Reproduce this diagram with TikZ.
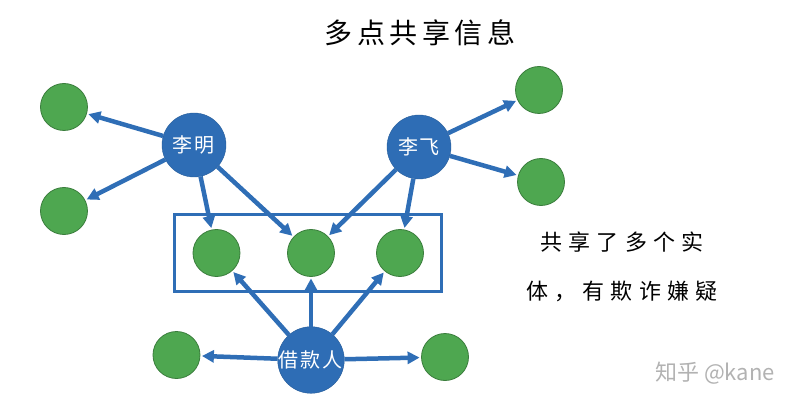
\documentclass[tikz,border=0pt]{standalone}
\usepackage{fontspec}
\newfontfamily\cjk{Noto Sans CJK SC}
\newfontfamily\cjkhub[LetterSpace=10]{Noto Sans CJK SC}
\newfontfamily\cjktitle[LetterSpace=16]{Noto Sans CJK SC}
\newfontfamily\cjknote[LetterSpace=28]{Noto Sans CJK SC}
\usetikzlibrary{positioning, fit, arrows.meta}
\definecolor{hubblue}{RGB}{46,109,181}
\definecolor{linkblue}{RGB}{47,110,182}
\definecolor{leafgreen}{RGB}{78,167,80}
\definecolor{markgray}{RGB}{178,178,178}
\begin{document}
\begin{tikzpicture}[x=1pt, y=1pt, node distance=100pt]

    % Define styles
    \tikzset{
        hub/.style = {circle, minimum size=64pt, inner sep=0pt, draw=hubblue!85!black, fill=hubblue, text=white, font=\cjkhub\fontsize{20}{20}\selectfont},
        leaf/.style = {circle, minimum size=47pt, inner sep=0pt, draw=leafgreen!75!black, line width=0.8pt, fill=leafgreen},
        sharebox/.style = {rectangle, draw=linkblue, line width=3pt, inner xsep=18pt, inner ysep=14.5pt},
        caption/.style = {text=black, align=center, font=\cjknote\fontsize{22}{49}\selectfont},
        arrow/.style = {line width=4.5pt, draw=linkblue, shorten >=1.5pt, -{Triangle[length=12pt, width=12pt]}}
    }

    \useasboundingbox (-420,33) rectangle (380,-373);

    % Nodes
    \node (title) [font=\cjktitle\fontsize{28}{28}\selectfont] {多点共享信息};
    \node (liming) [hub, below of=title, node distance=112pt, xshift=-226pt] {李明};
    \node (lifei) [hub, right of=liming, node distance=225pt, yshift=-2pt] {李飞};
    \node (borrower) [hub, below of=liming, node distance=215pt, xshift=117pt] {借款人};
    \node (sharedmid) [leaf, above of=borrower, node distance=107pt] {};
    \node (sharedleft) [leaf, left of=sharedmid, node distance=94.5pt] {};
    \node (sharedright) [leaf, right of=sharedmid, node distance=89pt] {};
    \node (mingup) [leaf, left of=liming, node distance=130pt, yshift=38pt] {};
    \node (mingdown) [leaf, left of=liming, node distance=130pt, yshift=-66pt] {};
    \node (feiup) [leaf, right of=lifei, node distance=120pt, yshift=57pt] {};
    \node (feidown) [leaf, right of=lifei, node distance=122pt, yshift=-35pt] {};
    \node (loanleft) [leaf, left of=borrower, node distance=134.5pt, yshift=5pt] {};
    \node (loanright) [leaf, right of=borrower, node distance=134pt, yshift=3pt] {};
    \node (shared) [sharebox, fit=(sharedleft)(sharedmid)(sharedright)] {};
    \node (note) [caption, below of=feidown, node distance=85pt, xshift=81pt] {共享了多个实\\体，有欺诈嫌疑};
    \node (mark) [below of=loanright, node distance=16pt, xshift=270pt, text=markgray, font=\cjk\fontsize{22}{22}\selectfont] {知乎 @kane};

    % Arrows
    \draw [arrow] (liming) -- (mingup);
    \draw [arrow] (liming) -- (mingdown);
    \draw [arrow] (liming) -- (sharedleft);
    \draw [arrow] (liming) -- (sharedmid);
    \draw [arrow] (lifei) -- (sharedmid);
    \draw [arrow] (lifei) -- (sharedright);
    \draw [arrow] (lifei) -- (feiup);
    \draw [arrow] (lifei) -- (feidown);
    \draw [arrow] (borrower) -- (sharedleft);
    \draw [arrow] (borrower) -- (sharedmid);
    \draw [arrow] (borrower) -- (sharedright);
    \draw [arrow] (borrower) -- (loanleft);
    \draw [arrow] (borrower) -- (loanright);
\end{tikzpicture}
\end{document}
